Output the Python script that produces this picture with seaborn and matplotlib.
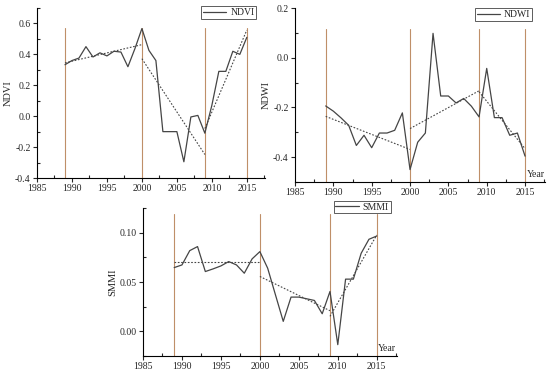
import numpy as np
import pandas as pd
import matplotlib
matplotlib.use("Agg")
import matplotlib.pyplot as plt
import seaborn as sns
from matplotlib.ticker import MultipleLocator, FormatStrFormatter

years = list(range(1989, 2016))
ndvi = [0.333, 0.36, 0.376, 0.45, 0.383, 0.41, 0.39, 0.42, 0.415, 0.32, 0.437,
        0.567, 0.426, 0.36, -0.10, -0.10, -0.10, -0.295, -0.005, 0.005, -0.11,
        0.07, 0.29, 0.29, 0.42, 0.40, 0.51]
ndwi = [-0.194, -0.215, -0.242, -0.272, -0.353, -0.312, -0.362, -0.303, -0.303,
        -0.292, -0.222, -0.45, -0.34, -0.303, 0.098, -0.154, -0.154, -0.182,
        -0.164, -0.195, -0.238, -0.043, -0.241, -0.241, -0.312, -0.303, -0.396]
smmi = [0.0646, 0.0673, 0.0818, 0.0859, 0.0606, 0.0633, 0.0663, 0.0707, 0.0673,
        0.0589, 0.0734, 0.0808, 0.064, 0.037, 0.0101, 0.0347, 0.0347, 0.033,
        0.0313, 0.0178, 0.0404, -0.0135, 0.0529, 0.0529, 0.0791, 0.0933, 0.0966]

# breakpoints and piecewise trend segments (start/end values)
breaks = [1989, 2000, 2009, 2015]
ndvi_trend = [(0.345, 0.463), (0.372, -0.248), (-0.08, 0.557)]
ndwi_trend = [(-0.236, -0.369), (-0.285, -0.133), (-0.137, -0.366)]
smmi_trend = [(0.070, 0.070), (0.0556, 0.0209), (0.0152, 0.0976)]

sns.set_style("ticks")
plt.rcParams['font.family'] = ['Liberation Serif', 'DejaVu Serif']
plt.rcParams['font.size'] = 7
plt.rcParams['axes.unicode_minus'] = False

fig = plt.figure(figsize=(5.5, 3.78), dpi=100)
W, H = 550, 378
def rect(l, t, r, b):
    return [l / W, 1 - b / H, (r - l) / W, (b - t) / H]

axes_spec = [
    dict(rect=rect(37, 8, 265, 178), vals=ndvi, trend=ndvi_trend, name="NDVI",
         ylim=(-0.4, 0.7), major=0.2, minor=0.1, fmt="%.1f", vmax=0.88,
         year=False, leg=(0.72, 1.01)),
    dict(rect=rect(295, 8, 545, 182), vals=ndwi, trend=ndwi_trend, name="NDWI",
         ylim=(-0.5, 0.2), major=0.2, minor=0.1, fmt="%.1f", vmax=0.88,
         year=True, leg=(0.72, 1.0)),
    dict(rect=rect(143, 208, 397, 356), vals=smmi, trend=smmi_trend, name="SMMI",
         ylim=(-0.025, 0.125), major=0.05, minor=0.025, fmt="%.2f", vmax=0.96,
         year=True, leg=(0.75, 1.05)),
]

vcol = "#bf8f68"
lcol = "#454545"
for spec in axes_spec:
    ax = fig.add_axes(spec["rect"])
    df = pd.DataFrame({"Year": years, spec["name"]: spec["vals"]})
    for b in breaks:
        ax.axvline(b, ymin=0, ymax=spec["vmax"], color=vcol, lw=0.8, zorder=1)
    sns.lineplot(data=df, x="Year", y=spec["name"], ax=ax, color=lcol, lw=0.9,
                 label=spec["name"], zorder=3)
    for i, (v0, v1) in enumerate(spec["trend"]):
        ax.plot([breaks[i], breaks[i + 1]], [v0, v1], ls=(0, (1.5, 1.5)),
                color=lcol, lw=0.8, zorder=2)
    ax.set_xlim(1985, 2017.6)
    ax.set_ylim(*spec["ylim"])
    ax.xaxis.set_major_locator(MultipleLocator(5))
    ax.xaxis.set_minor_locator(MultipleLocator(2.5))
    ax.yaxis.set_major_locator(MultipleLocator(spec["major"]))
    ax.yaxis.set_minor_locator(MultipleLocator(spec["minor"]))
    ax.yaxis.set_major_formatter(FormatStrFormatter(spec["fmt"]))
    ax.tick_params(which="major", direction="out", length=3, width=0.8,
                   labelsize=7, pad=1.5)
    ax.tick_params(which="minor", direction="in", length=2, width=0.8)
    ax.set_xlabel("")
    ax.set_ylabel(spec["name"], fontsize=7.5, labelpad=2)
    for s in ["top", "right"]:
        ax.spines[s].set_visible(False)
    for s in ["left", "bottom"]:
        ax.spines[s].set_linewidth(0.8)
        ax.spines[s].set_color("black")
    if spec["year"]:
        ax.annotate("Year", xy=(2015.2, spec["ylim"][0]), xytext=(0, 2.5),
                    textcoords="offset points", fontsize=7, ha="left",
                    va="bottom")
    leg = ax.legend(loc="upper left", bbox_to_anchor=spec["leg"], fontsize=7,
                    frameon=True, fancybox=False, handlelength=2.4,
                    borderpad=0.2, handletextpad=0.4, borderaxespad=0)
    leg.get_frame().set_edgecolor("#333333")
    leg.get_frame().set_linewidth(0.7)
    ax.set_facecolor("white")

fig.savefig("out.png", dpi=100, facecolor="white")
